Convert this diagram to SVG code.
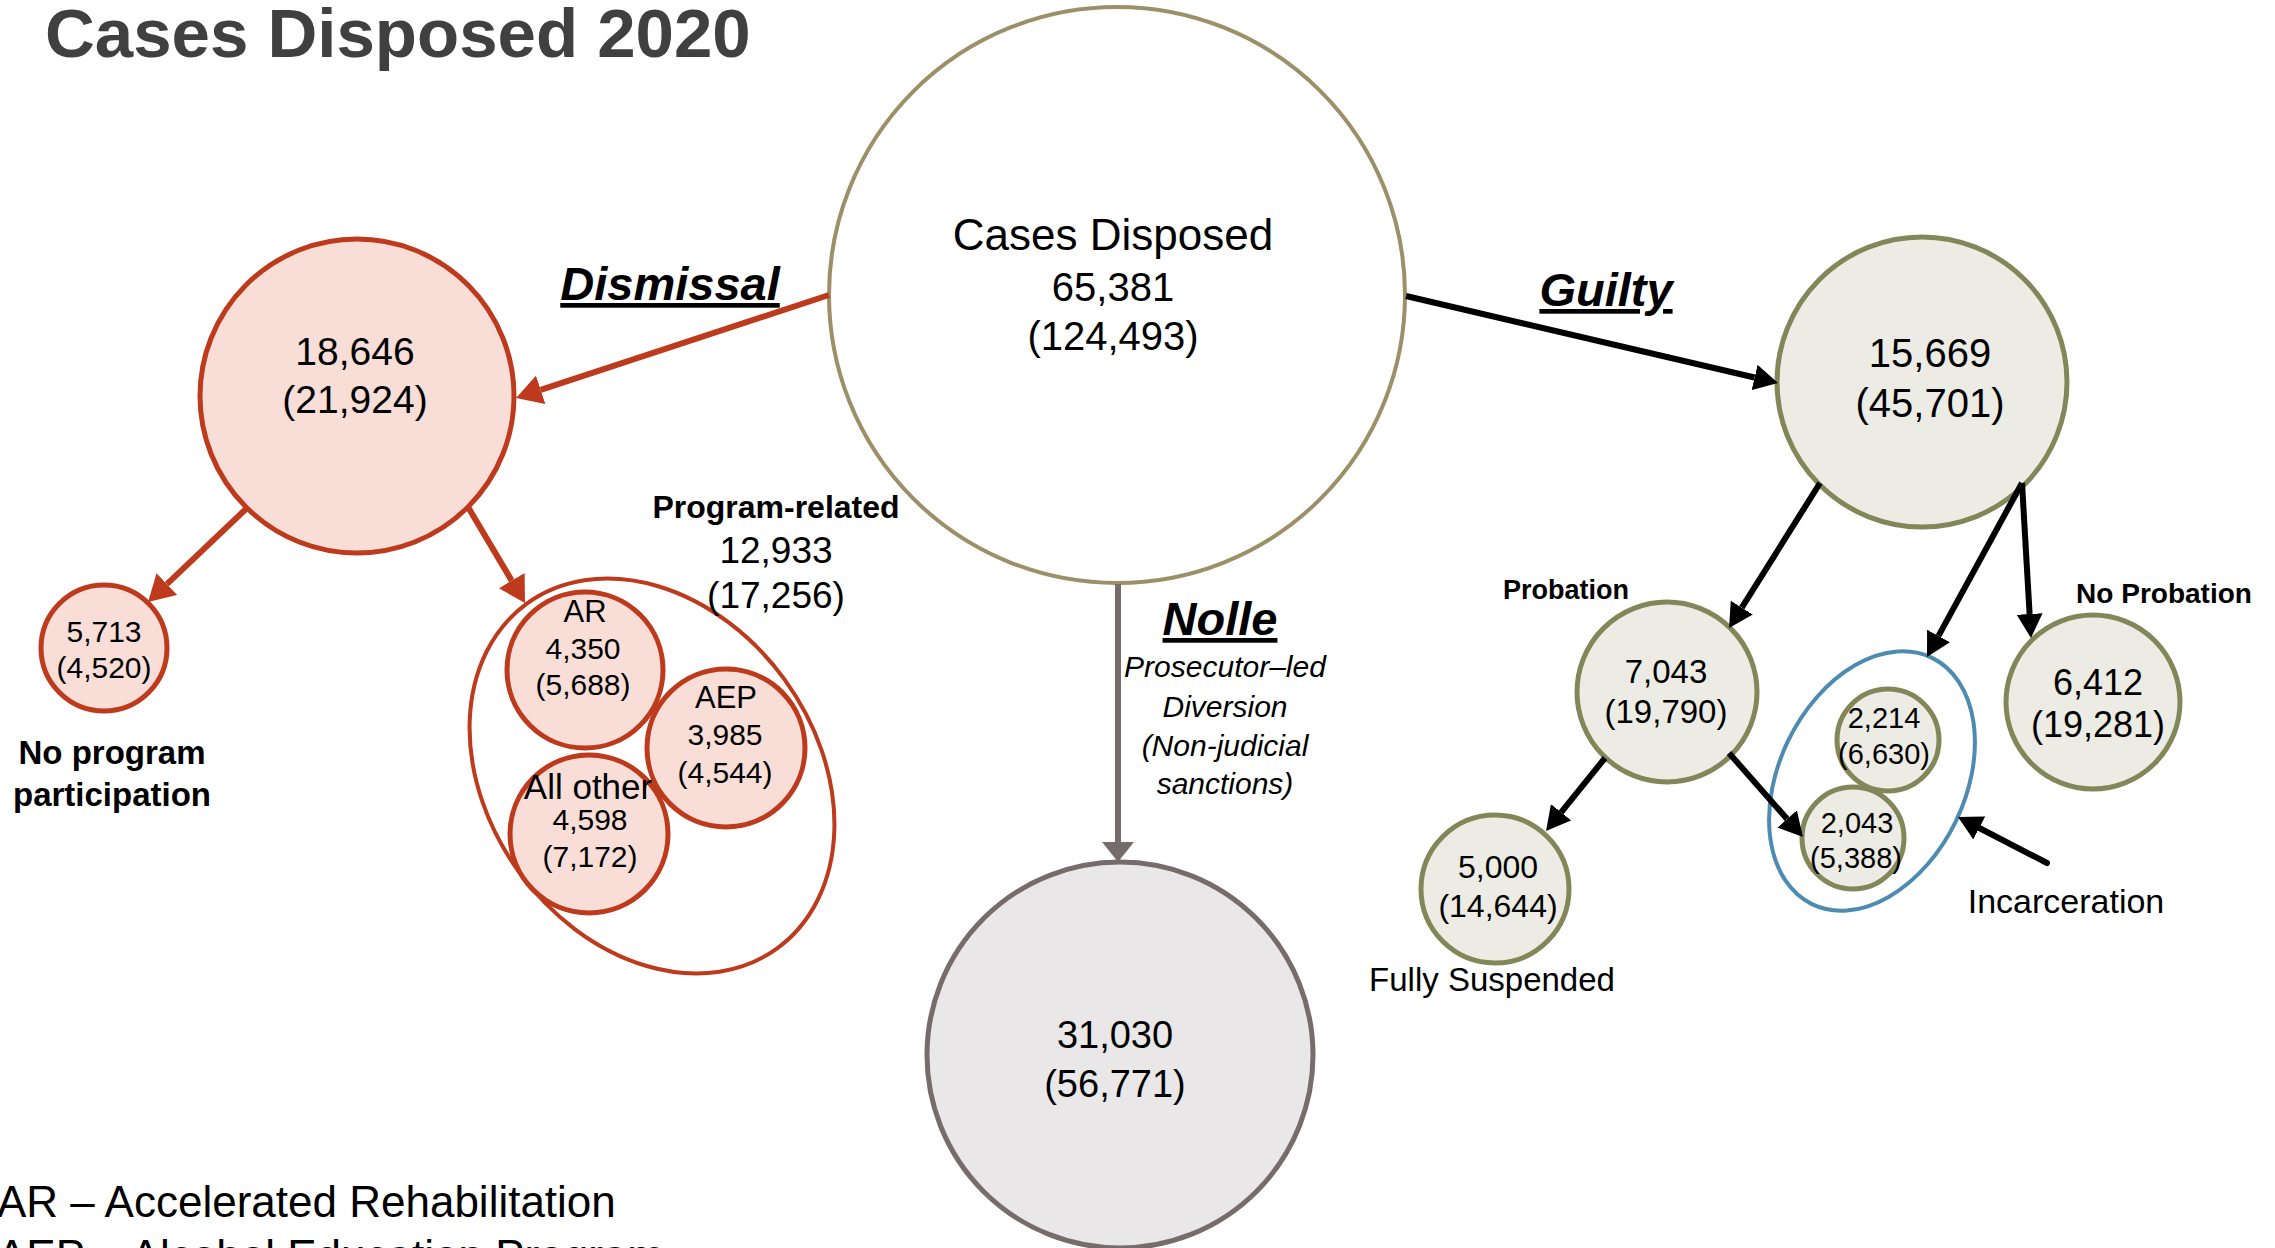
<svg xmlns="http://www.w3.org/2000/svg" width="2275" height="1248" viewBox="0 0 2275 1248">
<style>
text{font-family:"Liberation Sans",Arial,sans-serif;fill:#000;text-anchor:middle}
.title{font-size:69px;font-weight:bold;fill:#404040;text-anchor:start}
.branch{font-size:47px;font-weight:bold;font-style:italic;text-decoration:underline}
.note{font-size:30px;font-style:italic}
.lbl{font-weight:bold}
.legend{font-size:44px;text-anchor:start}
.red{fill:#F9DED7;stroke:#BD3A1C;stroke-width:5}
.olive{fill:#ECECE4;stroke:#82875A;stroke-width:5}
.cr-red{stroke:#BD3A1C;stroke-width:6;fill:none}
.cr-blk{stroke:#000;stroke-width:6;fill:none}
.cr-gry{stroke:#766C6C;stroke-width:6;fill:none}
</style>
<defs>
<marker id="ah-red" markerUnits="userSpaceOnUse" markerWidth="26" markerHeight="30" viewBox="0 0 26 30" refX="0" refY="15" orient="auto"><path d="M0,0 L26,15 L0,30 z" fill="#BD3A1C"/></marker>
<marker id="ah-blk" markerUnits="userSpaceOnUse" markerWidth="24" markerHeight="26" viewBox="0 0 24 26" refX="0" refY="13" orient="auto"><path d="M0,0 L24,13 L0,26 z" fill="#000"/></marker>
<marker id="ah-gry" markerUnits="userSpaceOnUse" markerWidth="20" markerHeight="32" viewBox="0 0 20 32" refX="0" refY="16" orient="auto"><path d="M0,0 L20,16 L0,32 z" fill="#766C6C"/></marker>
</defs>
<rect width="2275" height="1248" fill="#fff"/>
<text class="title" x="45" y="57">Cases Disposed 2020</text>

<g id="node-cases-disposed">
<circle cx="1117" cy="295" r="288" fill="#fff" stroke="#9D8F68" stroke-width="4"/>
<text x="1113" y="250" font-size="44">Cases Disposed</text>
<text x="1113" y="301" font-size="40">65,381</text>
<text x="1113" y="350" font-size="40">(124,493)</text>
</g>

<g id="node-dismissal">
<circle class="red" cx="357" cy="396" r="157"/>
<text x="355" y="365" font-size="39">18,646</text>
<text x="355" y="413" font-size="39">(21,924)</text>
</g>

<g id="node-no-program">
<circle class="red" cx="104" cy="648" r="63"/>
<text x="104" y="642" font-size="30">5,713</text>
<text x="104" y="678" font-size="30">(4,520)</text>
<text class="lbl" x="112" y="764" font-size="33">No program</text>
<text class="lbl" x="112" y="806" font-size="33">participation</text>
</g>

<g id="node-program-related">
<ellipse cx="652" cy="776" rx="164" ry="213" transform="rotate(-36 652 776)" fill="none" stroke="#BD3A1C" stroke-width="4"/>
<text class="lbl" x="776" y="518" font-size="32">Program-related</text>
<text x="776" y="563" font-size="37">12,933</text>
<text x="776" y="608" font-size="37">(17,256)</text>
</g>

<g id="node-ar">
<circle class="red" cx="585" cy="670" r="78"/>
<text x="585" y="622" font-size="31">AR</text>
<text x="583" y="659" font-size="30">4,350</text>
<text x="583" y="695" font-size="30">(5,688)</text>
</g>

<g id="node-aep">
<circle class="red" cx="726" cy="748" r="79"/>
<text x="726" y="708" font-size="31">AEP</text>
<text x="725" y="745" font-size="30">3,985</text>
<text x="725" y="783" font-size="30">(4,544)</text>
</g>

<g id="node-all-other">
<circle class="red" cx="589" cy="834" r="79"/>
<text x="588" y="799" font-size="35">All other</text>
<text x="590" y="830" font-size="30">4,598</text>
<text x="590" y="867" font-size="30">(7,172)</text>
</g>

<g id="node-nolle">
<circle cx="1120" cy="1055" r="193" fill="#E9E7E8" stroke="#766C6C" stroke-width="5"/>
<text x="1115" y="1048" font-size="38">31,030</text>
<text x="1115" y="1097" font-size="38">(56,771)</text>
</g>

<g id="node-guilty">
<circle class="olive" cx="1922" cy="382" r="145"/>
<text x="1930" y="367" font-size="40">15,669</text>
<text x="1930" y="417" font-size="40">(45,701)</text>
</g>

<g id="node-probation">
<circle class="olive" cx="1667" cy="692" r="90"/>
<text x="1666" y="683" font-size="33">7,043</text>
<text x="1666" y="723" font-size="33">(19,790)</text>
<text class="lbl" x="1566" y="599" font-size="27">Probation</text>
</g>

<g id="node-fully-suspended">
<circle class="olive" cx="1495" cy="889" r="74"/>
<text x="1498" y="878" font-size="32">5,000</text>
<text x="1498" y="917" font-size="32">(14,644)</text>
<text x="1492" y="991" font-size="33">Fully Suspended</text>
</g>

<g id="node-incarceration">
<ellipse cx="1872" cy="781" rx="93" ry="137" transform="rotate(26 1872 781)" fill="none" stroke="#4D8BB0" stroke-width="4"/>
<text x="2066" y="913" font-size="34">Incarceration</text>
</g>

<g id="node-incarceration-a">
<circle class="olive" cx="1888" cy="740" r="51"/>
<text x="1884" y="728" font-size="29">2,214</text>
<text x="1884" y="764" font-size="29">(6,630)</text>
</g>

<g id="node-incarceration-b">
<circle class="olive" cx="1853" cy="838" r="51"/>
<text x="1857" y="833" font-size="29">2,043</text>
<text x="1856" y="868" font-size="29">(5,388)</text>
</g>

<g id="node-no-probation">
<circle class="olive" cx="2093" cy="702" r="87"/>
<text x="2098" y="695" font-size="36">6,412</text>
<text x="2098" y="737" font-size="36">(19,281)</text>
<text class="lbl" x="2164" y="603" font-size="28">No Probation</text>
</g>

<g id="connectors">
<line class="cr-red" x1="829" y1="295" x2="540.7" y2="389.9" marker-end="url(#ah-red)"/>
<line class="cr-red" x1="248" y1="507" x2="166.9" y2="584.1" marker-end="url(#ah-red)"/>
<line class="cr-red" x1="468" y1="507" x2="511.7" y2="580.6" marker-end="url(#ah-red)"/>
<line class="cr-gry" x1="1118" y1="584" x2="1118" y2="842" marker-end="url(#ah-gry)"/>
<line class="cr-blk" x1="1406" y1="296" x2="1754.6" y2="377.5" marker-end="url(#ah-blk)"/>
<line class="cr-blk" x1="1820" y1="483" x2="1741.8" y2="607.7" marker-end="url(#ah-blk)"/>
<line class="cr-blk" x1="2022" y1="483" x2="1938.5" y2="635.9" marker-end="url(#ah-blk)"/>
<line class="cr-blk" x1="2022" y1="483" x2="2029.6" y2="614" marker-end="url(#ah-blk)"/>
<line class="cr-blk" x1="1605" y1="758" x2="1561.1" y2="812.3" marker-end="url(#ah-blk)"/>
<line class="cr-blk" x1="1729" y1="753" x2="1787.1" y2="819" marker-end="url(#ah-blk)"/>
<line class="cr-blk" x1="2047" y1="863" x2="1979.3" y2="828" stroke-linecap="round" marker-end="url(#ah-blk)"/>
</g>

<g id="branch-labels">
<text class="branch" x="670" y="300">Dismissal</text>
<text class="branch" x="1606" y="306">Guilty</text>
<text class="branch" x="1220" y="635">Nolle</text>
<text class="note" x="1225" y="677">Prosecutor–led</text>
<text class="note" x="1225" y="717">Diversion</text>
<text class="note" x="1225" y="756">(Non-judicial</text>
<text class="note" x="1225" y="794">sanctions)</text>
</g>

<g id="legend">
<text class="legend" x="-3" y="1217">AR – Accelerated Rehabilitation</text>
<text class="legend" x="-3" y="1271">AEP – Alcohol Education Program</text>
</g>
</svg>
